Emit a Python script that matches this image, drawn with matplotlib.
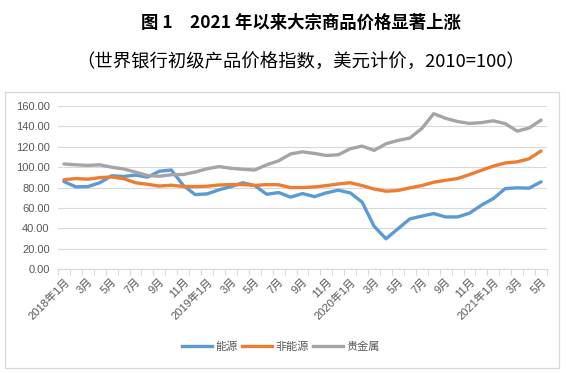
import matplotlib
matplotlib.use("Agg")
import matplotlib.pyplot as plt
from matplotlib.patches import Rectangle
from matplotlib.lines import Line2D

plt.rcParams['font.family'] = ['Liberation Sans', 'Noto Sans CJK SC', 'DejaVu Sans']

title = "图 1　2021 年以来大宗商品价格显著上涨"
subtitle = "（世界银行初级产品价格指数，美元计价，2010=100）"

series_names = ["能源", "非能源", "贵金属"]

month_labels = ["2018年1月", "3月", "5月", "7月", "9月", "11月",
                "2019年1月", "3月", "5月", "7月", "9月", "11月",
                "2020年1月", "3月", "5月", "7月", "9月", "11月",
                "2021年1月", "3月", "5月"]

energy = [85.9, 80.8, 81.0, 84.8, 91.6, 91.0, 92.3, 90.3, 96.1, 97.3, 82.3,
          73.2, 73.9, 77.9, 81.0, 84.8, 82.0, 73.5, 75.2, 70.7, 74.2, 71.2,
          74.9, 77.5, 74.9, 65.8, 42.2, 29.9, 39.7, 49.4, 52.1, 54.6, 51.3,
          51.3, 55.0, 62.8, 69.3, 79.1, 79.8, 79.5, 85.7]
non_energy = [87.8, 88.9, 88.3, 89.8, 90.5, 88.8, 84.8, 83.3, 81.6, 82.4, 81.2,
              81.0, 81.4, 82.6, 83.0, 83.0, 82.2, 83.0, 82.8, 80.1, 80.1, 80.7,
              82.0, 83.6, 84.8, 82.0, 78.7, 76.5, 77.2, 79.8, 82.0, 85.3, 87.2,
              88.9, 92.8, 97.0, 101.1, 104.2, 105.3, 108.3, 116.0]
precious = [103.2, 102.4, 101.8, 102.4, 100.0, 98.3, 95.2, 91.9, 91.2, 92.6, 92.9,
            95.3, 98.5, 100.6, 99.0, 98.0, 97.3, 102.4, 106.3, 113.0, 115.1, 113.5,
            111.5, 112.2, 118.1, 120.7, 116.5, 123.0, 126.3, 128.6, 137.9, 152.5, 147.9,
            144.8, 142.9, 143.7, 145.5, 142.7, 135.4, 138.4, 146.2]

colors = ["#5B9BD5", "#ED7D31", "#A5A5A5"]
W, H = 566, 373
fig = plt.figure(figsize=(W / 100, H / 100), dpi=100)

# chart frame
fig.patches.append(Rectangle((5 / W, 1 - 367.5 / H), (559 - 5) / W, (367.5 - 91.5) / H,
                             transform=fig.transFigure, fill=False,
                             edgecolor="#D9D9D9", linewidth=0.9))

fig.text(301 / W, 1 - 23 / H, title, ha='center', va='center', fontsize=12.5,
         fontweight='bold', family=['Noto Sans CJK SC'])
fig.text(301 / W, 1 - 63 / H, subtitle, ha='center', va='center', fontsize=13.2,
         family=['Noto Sans CJK SC'])

ax = fig.add_axes([58 / W, 1 - 269.3 / H, (547 - 58) / W, (269.3 - 106) / H])
n = len(energy)
x = list(range(n))
for vals, c, name in zip([energy, non_energy, precious], colors, series_names):
    ax.plot(x, vals, color=c, lw=2.4, label=name, solid_capstyle='round', solid_joinstyle='round')

ax.set_xlim(-0.5, n - 0.5)
ax.set_ylim(0, 160)
ax.set_yticks(range(0, 161, 20))
ax.set_yticklabels([f"{v:.2f}" for v in range(0, 161, 20)], fontsize=8, color="#595959")
ax.yaxis.grid(True, color="#D9D9D9", lw=0.8)
ax.set_axisbelow(True)
ax.tick_params(axis='y', length=0, pad=6)

ax.set_xticks(x[::2])
ax.set_xticklabels(month_labels, fontsize=8, color="#595959")
ax.set_xticks([i - 0.5 for i in range(n + 1)], minor=True)
ax.tick_params(axis='x', which='major', length=0, pad=5)
ax.tick_params(axis='x', which='minor', length=4, color="#D9D9D9", width=0.8)
for lab in ax.get_xticklabels():
    lab.set_rotation(45)
    lab.set_ha('right')
    lab.set_rotation_mode('anchor')

for s in ['top', 'right', 'left']:
    ax.spines[s].set_visible(False)
ax.spines['bottom'].set_color("#D9D9D9")
ax.spines['bottom'].set_linewidth(0.8)

handles = [Line2D([], [], color=c, lw=2.4) for c in colors]
fig.legend(handles, series_names, loc='center', bbox_to_anchor=(281 / W, 1 - 347 / H),
           ncol=3, frameon=False, handlelength=2.7, handletextpad=0.35,
           columnspacing=0.35, labelcolor="#595959",
           prop={'family': ['Noto Sans CJK SC'], 'size': 8})

fig.savefig("out.png", dpi=100)
